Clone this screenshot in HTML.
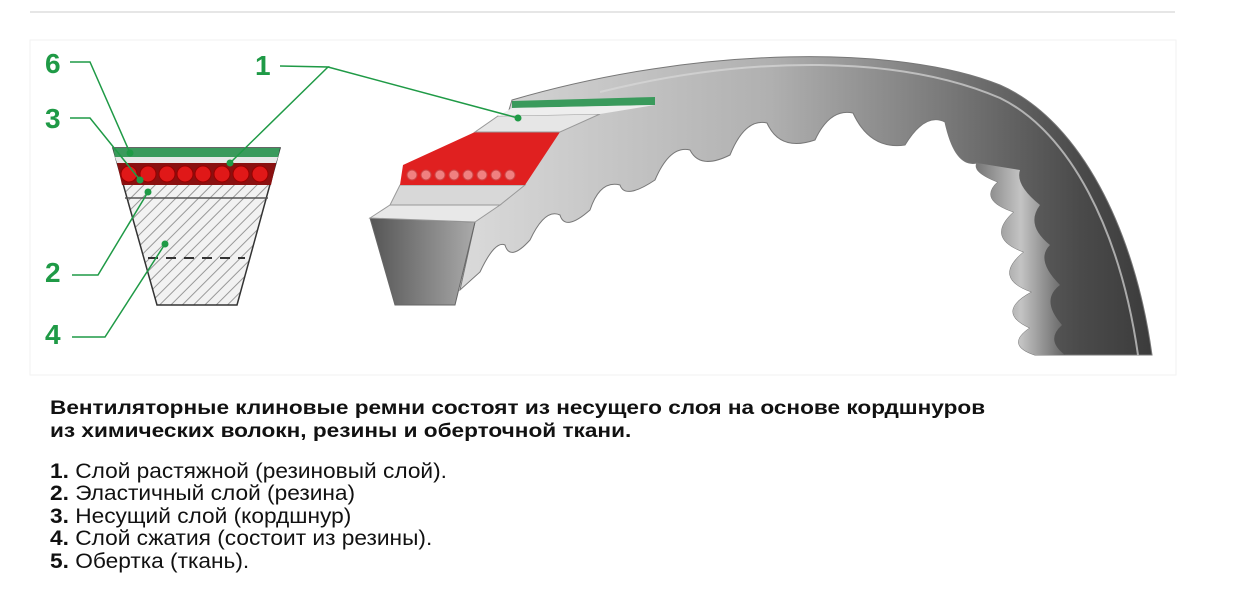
<!DOCTYPE html>
<html><head><meta charset="utf-8"><style>
body{margin:0;background:#fff;width:1251px;height:611px;overflow:hidden;font-family:"Liberation Sans",sans-serif;}
.t{position:absolute;left:50px;color:#111;white-space:nowrap;transform-origin:left}
.b{font-weight:bold;font-size:19px;transform:scaleX(1.19)}
.l{font-size:21px;transform:scaleX(1.08)}
</style></head><body>
<svg width="1251" height="380" style="position:absolute;left:0;top:0">
<defs>
<pattern id="h" width="8" height="8" patternUnits="userSpaceOnUse" patternTransform="rotate(45)">
<rect width="8" height="8" fill="#f2f2f2"/><line x1="0" y1="0" x2="0" y2="8" stroke="#999" stroke-width="2"/></pattern>
<linearGradient id="side" x1="460" y1="0" x2="1150" y2="0" gradientUnits="userSpaceOnUse"><stop offset="0" stop-color="#dadada"/><stop offset="0.45" stop-color="#b0b0b0"/><stop offset="0.7" stop-color="#7a7a7a"/><stop offset="0.9" stop-color="#4a4a4a"/><stop offset="1" stop-color="#3c3c3c"/></linearGradient>
<linearGradient id="tv" x1="0" y1="0" x2="1" y2="0"><stop offset="0" stop-color="#777"/><stop offset="0.5" stop-color="#cfcfcf"/><stop offset="1" stop-color="#666"/></linearGradient>
<linearGradient id="g2" x1="0" y1="0" x2="1" y2="0"><stop offset="0" stop-color="#555"/><stop offset="1" stop-color="#aaa"/></linearGradient>
</defs>
<line x1="30" y1="12" x2="1175" y2="12" stroke="#e6e6e6" stroke-width="2"/>
<rect x="30" y="40" width="1146" height="335" fill="none" stroke="#f2f2f2"/>
<!-- left cross-section -->
<polygon points="113,148 280,148 237,305 157,305" fill="url(#h)" stroke="#333" stroke-width="1.5"/>
<polygon points="113,148 280,148 278,157 115,157" fill="#3a9a5c"/>
<polygon points="115,157 278,157 276,163 117,163" fill="#e8e8e8"/>
<polygon points="117,163 276,163 271,185 122,185" fill="#8a1010"/>
<g fill="#e01818" stroke="#900" stroke-width="1">
<circle cx="129" cy="174" r="8"/><circle cx="148" cy="174" r="8"/><circle cx="167" cy="174" r="8"/><circle cx="185" cy="174" r="8"/><circle cx="203" cy="174" r="8"/><circle cx="222" cy="174" r="8"/><circle cx="241" cy="174" r="8"/><circle cx="260" cy="174" r="8"/></g>
<line x1="125" y1="198" x2="268" y2="198" stroke="#555" stroke-width="1.5"/>
<line x1="148" y1="258" x2="245" y2="258" stroke="#333" stroke-width="2" stroke-dasharray="10,8"/>
<!-- belt body -->
<path d="M512,100 C700,45 900,45 1000,85 C1080,120 1135,230 1152,355 L1035,355
Q1005,345 1030,328 Q995,312 1032,292 Q992,278 1024,252 Q985,238 1014,212 Q978,200 998,182 Q972,172 977,163
Q955,168 945,122 Q925,112 905,145 Q870,150 853,113 Q830,108 815,140 Q780,152 767,123 Q745,118 730,155 Q700,170 690,150 Q670,145 655,180 Q625,200 620,185 Q600,180 590,210 Q565,232 560,215 Q545,208 530,240 Q510,262 505,245 Q495,240 480,272 L460,290 L475,222 Z" fill="url(#side)" stroke="#777"/>
<path d="M977,163 Q972,172 998,182 Q978,200 1014,212 Q985,238 1024,252 Q992,278 1032,292 Q995,312 1030,328 Q1005,345 1035,355 L1065,355 Q1045,340 1062,325 Q1040,300 1060,285 Q1035,260 1050,245 Q1025,225 1040,205 Q1015,185 1020,170 Z" fill="url(#tv)" opacity="0.9"/>
<path d="M600,92 C750,55 900,55 1000,98 C1070,132 1120,230 1138,355" stroke="#d8d8d8" stroke-width="2" fill="none" opacity="0.7"/>
<!-- front layers -->
<polygon points="370,218 475,222 455,305 395,305" fill="url(#g2)" stroke="#666"/>
<polygon points="370,218 475,222 500,205 390,205" fill="#e8e8e8" stroke="#999"/>
<polygon points="390,205 500,205 525,185 400,185" fill="#d8d8d8" stroke="#999"/>
<polygon points="400,185 525,185 560,132 475,132 403,165" fill="#e02020"/>
<g fill="#f08080" stroke="#c44"><circle cx="412" cy="175" r="5"/><circle cx="426" cy="175" r="5"/><circle cx="440" cy="175" r="5"/><circle cx="454" cy="175" r="5"/><circle cx="468" cy="175" r="5"/><circle cx="482" cy="175" r="5"/><circle cx="496" cy="175" r="5"/><circle cx="510" cy="175" r="5"/></g>
<polygon points="475,132 560,132 600,114 498,116" fill="#e6e6e6" stroke="#999"/>
<polygon points="512,101 655,97 655,105 512,108" fill="#3a9a5c"/>
<polygon points="512,108 655,105 600,114 498,116" fill="#eee"/>
<!-- leaders -->
<g stroke="#1f9a46" stroke-width="1.5" fill="none">
<polyline points="70,62 90,62 130,153"/><polyline points="70,118 90,118 140,180"/>
<polyline points="72,275 98,275 148,192"/><polyline points="72,337 105,337 165,244"/>
<polyline points="280,66 328,67 230,163"/><line x1="328" y1="67" x2="518" y2="118"/>
</g>
<g fill="#1f9a46"><circle cx="130" cy="153" r="3.5"/><circle cx="140" cy="180" r="3.5"/><circle cx="148" cy="192" r="3.5"/><circle cx="165" cy="244" r="3.5"/><circle cx="230" cy="163" r="3.5"/><circle cx="518" cy="118" r="3.5"/></g>
<g fill="#1f9a46" font-family="Liberation Sans" font-size="28" font-weight="bold">
<text x="45" y="73">6</text><text x="45" y="128">3</text><text x="45" y="282">2</text><text x="45" y="344">4</text><text x="255" y="75">1</text></g>
</svg>
<div class="t b" style="top:398px">Вентиляторные клиновые ремни состоят из несущего слоя на основе кордшнуров</div>
<div class="t b" style="top:421px">из химических волокн, резины и оберточной ткани.</div>
<div class="t l" style="top:460px"><b>1.</b> Слой растяжной (резиновый слой).</div>
<div class="t l" style="top:482px"><b>2.</b> Эластичный слой (резина)</div>
<div class="t l" style="top:505px"><b>3.</b> Несущий слой (кордшнур)</div>
<div class="t l" style="top:527px"><b>4.</b> Слой сжатия (состоит из резины).</div>
<div class="t l" style="top:550px"><b>5.</b> Обертка (ткань).</div>
</body></html>
